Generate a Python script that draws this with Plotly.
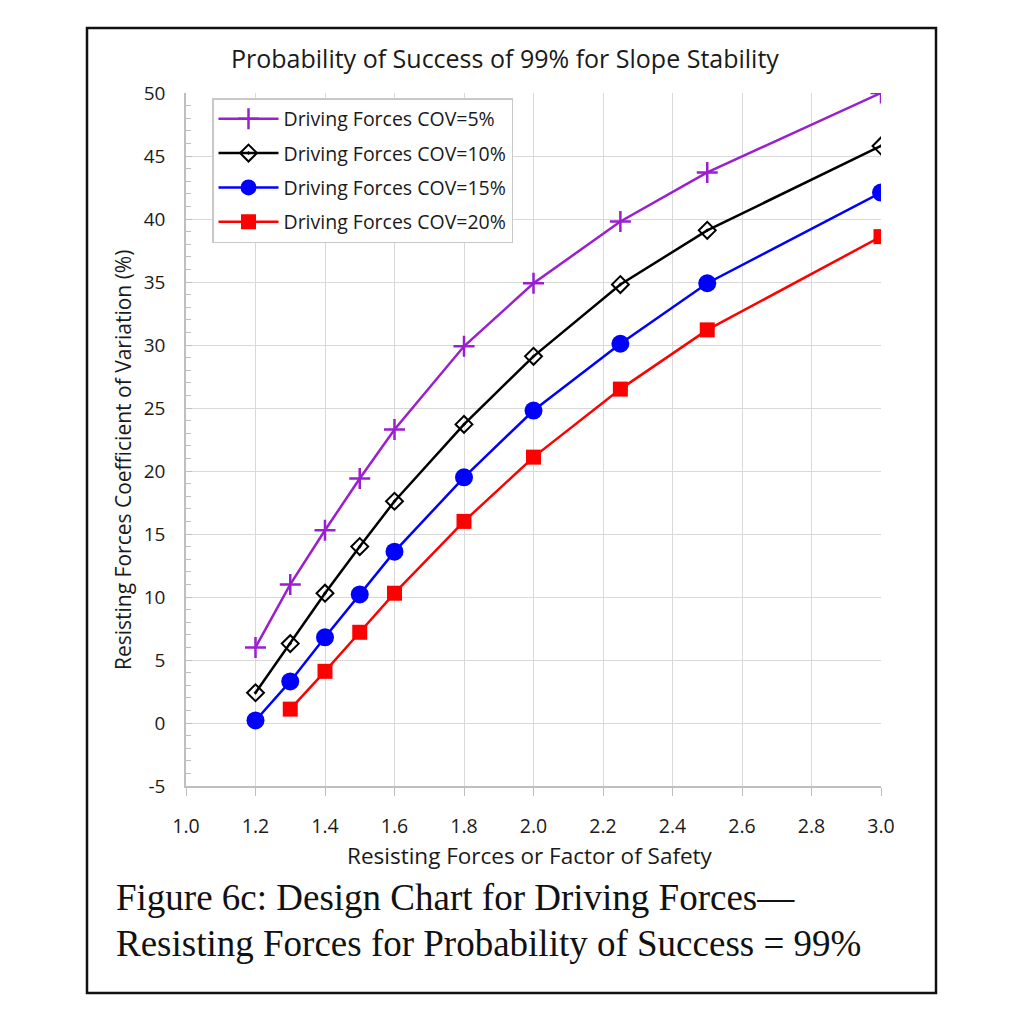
import plotly.graph_objects as go

x_fs = [1.2, 1.3, 1.4, 1.5, 1.6, 1.8, 2.0, 2.25, 2.5, 3.0]
cov5 = [6.0, 11.0, 15.3, 19.4, 23.3, 29.9, 34.9, 39.8, 43.7, 50.0]
cov10 = [2.4, 6.3, 10.3, 14.0, 17.6, 23.7, 29.1, 34.8, 39.1, 45.8]
cov15 = [0.2, 3.3, 6.8, 10.2, 13.6, 19.5, 24.8, 30.1, 34.9, 42.1]
x_fs20 = [1.3, 1.4, 1.5, 1.6, 1.8, 2.0, 2.25, 2.5, 3.0]
cov20 = [1.1, 4.1, 7.2, 10.3, 16.0, 21.1, 26.5, 31.2, 38.6]

y_tickvals = [-5, 0, 5, 10, 15, 20, 25, 30, 35, 40, 45, 50]
y_ticktext = ["-5", "0", "5", "10", "15", "20", "25", "30", "35", "40", "45", "50"]

names = ["Driving Forces COV=5%", "Driving Forces COV=10%",
         "Driving Forces COV=15%", "Driving Forces COV=20%"]

fig = go.Figure()
fig.add_trace(go.Scatter(x=x_fs, y=cov5, name=names[0], mode="lines+markers", legendgroup="a",
                         line=dict(color="#9a1fd0", width=2.5),
                         marker=dict(symbol="cross-thin", size=15, line=dict(color="#9a1fd0", width=2.5))))
fig.add_trace(go.Scatter(x=x_fs, y=cov10, name=names[1], mode="lines+markers", legendgroup="b",
                         line=dict(color="black", width=2.5),
                         marker=dict(symbol="diamond-open-dot", size=13, color="black",
                                     line=dict(color="black", width=2))))
fig.add_trace(go.Scatter(x=x_fs, y=cov15, name=names[2], mode="lines+markers", legendgroup="c",
                         line=dict(color="#0000ff", width=2.5),
                         marker=dict(symbol="circle", size=18, color="#0000ff")))
fig.add_trace(go.Scatter(x=x_fs20, y=cov20, name=names[3], mode="lines+markers", legendgroup="d",
                         line=dict(color="#ff0000", width=2.5),
                         marker=dict(symbol="square", size=15, color="#ff0000")))

L, R, T, B = 186, 881, 93, 786
W = R - L
H = B - T

def px(xp):
    return (xp - L) / W

def py(yp):
    return (B - yp) / H

TXT = "#1a1a1a"
fig.update_layout(
    width=1024, height=1024,
    margin=dict(l=L, r=1024 - R, t=T, b=1024 - B),
    paper_bgcolor="white", plot_bgcolor="white",
    font=dict(family="Open Sans, Noto Sans, sans-serif", color=TXT, size=18),
    showlegend=True,
    legend=dict(x=px(212), y=py(98), xanchor="left", yanchor="top",
                bordercolor="#c8c8c8", borderwidth=1.5, bgcolor="white",
                font=dict(size=19.5, color=TXT), itemwidth=60,
                tracegroupgap=6),
    xaxis=dict(range=[1.0, 3.0], dtick=0.2, tick0=1.0, tickformat=".1f",
               showgrid=True, gridcolor="#d9d9d9", gridwidth=1.2,
               showline=True, linecolor="#bfbfbf", linewidth=1.5,
               ticks="outside", ticklen=8, tickcolor="#bfbfbf",
               ticklabelstandoff=14,
               zeroline=False, tickfont=dict(size=19.5, color=TXT)),
    yaxis=dict(range=[-5, 50], tickmode="array", tickvals=y_tickvals, ticktext=y_ticktext,
               showgrid=True, gridcolor="#d9d9d9", gridwidth=1.2,
               showline=True, linecolor="#bfbfbf", linewidth=1.5,
               ticks="inside", ticklen=6, tickcolor="#bfbfbf",
               ticklabelstandoff=15,
               minor=dict(dtick=1, ticks="inside", ticklen=5, tickcolor="#bfbfbf", showgrid=False),
               zeroline=False, tickfont=dict(size=19, color=TXT)),
)

# outer frame
fig.add_shape(type="rect", xref="paper", yref="paper",
              x0=px(87), x1=px(936), y0=py(993), y1=py(28),
              line=dict(color="#111", width=2.5), layer="below")

fig.add_annotation(text="Probability of Success of 99% for Slope Stability",
                   xref="paper", yref="paper", x=px(505), y=py(58),
                   xanchor="center", yanchor="middle", showarrow=False,
                   font=dict(size=25, color=TXT))

fig.add_annotation(text="Resisting Forces or Factor of Safety",
                   xref="paper", yref="paper", x=px(530), y=py(855),
                   xanchor="center", yanchor="middle", showarrow=False,
                   font=dict(size=22.5, color=TXT))
fig.add_annotation(text="Resisting Forces Coefficient of Variation (%)",
                   xref="paper", yref="paper", x=px(123), y=py(460),
                   xanchor="center", yanchor="middle", showarrow=False, textangle=-90,
                   font=dict(size=21, color=TXT))

SERIF = "Liberation Serif, DejaVu Serif, serif"
fig.add_annotation(text="Figure 6c: Design Chart for Driving Forces\u2014",
                   xref="paper", yref="paper", x=px(114), y=py(897),
                   xanchor="left", yanchor="middle", showarrow=False,
                   font=dict(size=37, color="#111", family=SERIF))
fig.add_annotation(text="Resisting Forces for Probability of Success = 99%",
                   xref="paper", yref="paper", x=px(114), y=py(943),
                   xanchor="left", yanchor="middle", showarrow=False,
                   font=dict(size=37, color="#111", family=SERIF))

fig.write_html("out.html")
